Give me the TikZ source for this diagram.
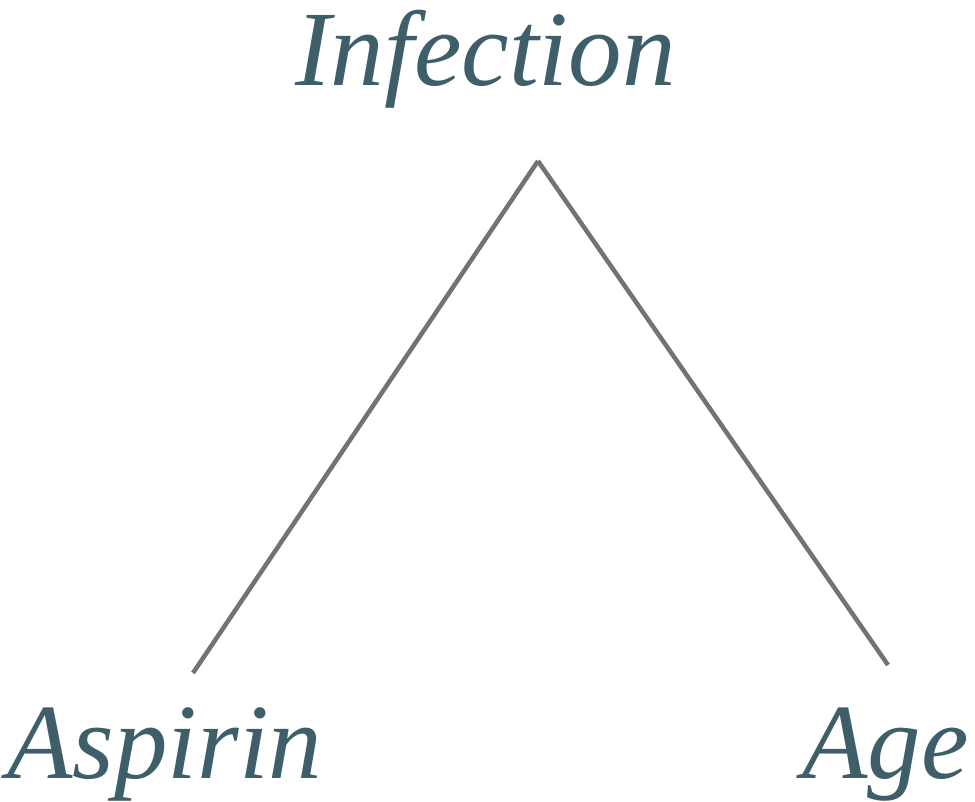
\documentclass[tikz,border=0pt]{standalone}
\usepackage{fontspec}
\setmainfont{Liberation Serif}
\usetikzlibrary{arrows,shapes}
\definecolor{labteal}{HTML}{3E5F69}
\definecolor{edggray}{HTML}{737373}
\tikzstyle{lbl}=[anchor=base west,inner sep=0pt,text=labteal,font=\fontsize{107}{110}\selectfont\itshape]
\tikzstyle{dgraph}=[-, line width=4.5pt, draw=edggray]

\begin{document}
\begin{tikzpicture}[x=1pt,y=-1pt,dgraph]
\useasboundingbox (0,0) rectangle (975,802);
\node[lbl] (I) at (293,86) {Infection};
\node[lbl] (A) at (5,778) {Aspirin};
\node[lbl] (G) at (800,778) {Age};
\coordinate (T) at (538,161);
\coordinate (Ta) at (193,673);
\coordinate (Tg) at (888,665);
\draw(Ta)--(T);\draw(T)--(Tg);
\end{tikzpicture}
\end{document}
